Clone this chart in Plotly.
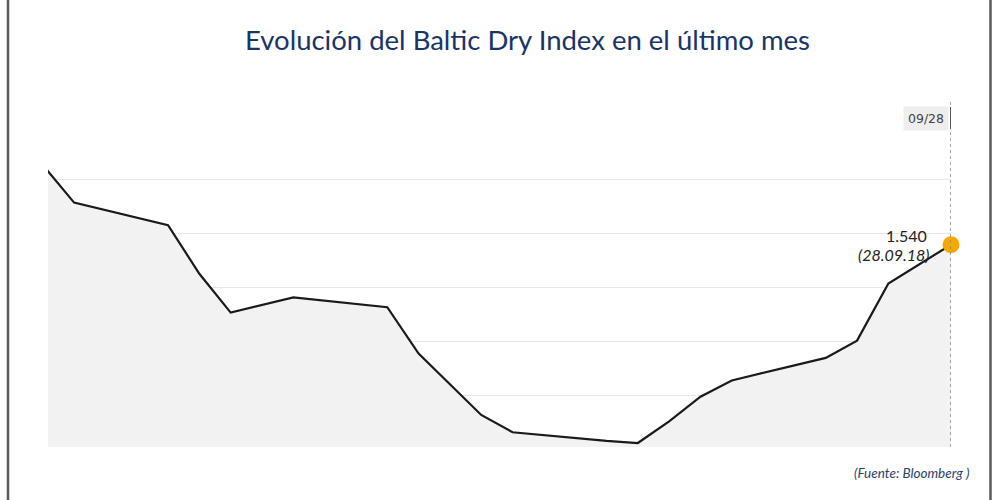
import plotly.graph_objects as go

# Data
dates = ["2018-08-30", "2018-08-31", "2018-09-03", "2018-09-04", "2018-09-05",
         "2018-09-07", "2018-09-10", "2018-09-11", "2018-09-13", "2018-09-14",
         "2018-09-17", "2018-09-18", "2018-09-19", "2018-09-20", "2018-09-21",
         "2018-09-24", "2018-09-25", "2018-09-26", "2018-09-28"]
bdi = [1614, 1579, 1558, 1513, 1477,
       1491, 1482, 1439, 1382, 1366,
       1358, 1356, 1376, 1399, 1414,
       1435, 1451, 1504, 1540]
grid_vals = [1400, 1450, 1500, 1550, 1600]
title_text = "Evolución del Baltic Dry Index en el último mes"
source_text = "(Fuente: Bloomberg )"
crosshair_label = "09/28"
last_date_label = "(28.09.18)"

last_val_text = f"{bdi[-1]:,}".replace(",", ".")

fig = go.Figure()
fig.add_trace(go.Scatter(
    x=dates, y=bdi, mode="lines",
    line=dict(color="#1a1a1a", width=2.2),
    fill="tozeroy", fillcolor="#f2f2f2",
    hoverinfo="skip", showlegend=False,
))
fig.add_trace(go.Scatter(
    x=[dates[-1]], y=[bdi[-1]], mode="markers",
    marker=dict(color="#f5a800", size=17, line=dict(width=0)),
    cliponaxis=False, hoverinfo="skip", showlegend=False,
))

L, R, T, B = 48, 49, 100, 53
W, H = 1000, 500
pw = W - L - R
ph = H - T - B


def px_x(px):
    return (px - L) / pw


def px_y(py):
    return (H - B - py) / ph


shapes = [
    # outer frame (left/right)
    dict(type="line", xref="paper", yref="paper", x0=px_x(8), x1=px_x(8),
         y0=px_y(0), y1=px_y(500), line=dict(color="#5a5a5a", width=2.5)),
    dict(type="line", xref="paper", yref="paper", x0=px_x(990.5), x1=px_x(990.5),
         y0=px_y(0), y1=px_y(500), line=dict(color="#5a5a5a", width=2.5)),
    # crosshair dotted line
    dict(type="line", xref="x", yref="paper", x0=dates[-1], x1=dates[-1],
         y0=0, y1=px_y(100), line=dict(color="#888888", width=1.5, dash="dot")),
    dict(type="line", xref="x", yref="paper", x0=dates[-1], x1=dates[-1],
         y0=px_y(129), y1=px_y(107), line=dict(color="#555555", width=2)),
]

annotations = [
    dict(text=title_text, xref="paper", yref="paper", x=px_x(527), y=px_y(39),
         xanchor="center", yanchor="middle", showarrow=False,
         font=dict(family="Lato", size=27.5, color="#1a3468")),
    dict(text=crosshair_label, xref="paper", yref="paper", x=px_x(949), y=px_y(118),
         xanchor="right", yanchor="middle", showarrow=False,
         bgcolor="#eeeeee", borderpad=4,
         font=dict(family="DejaVu Sans", size=12.5, color="#444444")),
    dict(text=last_val_text, xref="x", yref="y", x=dates[-1], y=bdi[-1],
         xanchor="right", yanchor="middle", xshift=-22, yshift=9, showarrow=False,
         font=dict(family="Lato", size=16, color="#222222")),
    dict(text="<i>" + last_date_label + "</i>", xref="x", yref="y", x=dates[-1], y=bdi[-1],
         xanchor="right", yanchor="middle", xshift=-20, yshift=-10, showarrow=False,
         font=dict(family="Lato", size=16, color="#222222")),
    dict(text="<i>" + source_text + "</i>", xref="paper", yref="paper", x=px_x(971), y=px_y(473),
         xanchor="right", yanchor="middle", showarrow=False,
         font=dict(family="Lato", size=13.5, color="#2a3f6e")),
]

fig.update_layout(
    width=W, height=H,
    margin=dict(l=L, r=R, t=T, b=B, pad=0),
    paper_bgcolor="white", plot_bgcolor="white",
    shapes=shapes, annotations=annotations,
    xaxis=dict(type="date", range=["2018-08-30 04:00", "2018-09-28 00:00"],
               showgrid=False, showticklabels=False, zeroline=False, showline=False,
               ticks="", fixedrange=True),
    yaxis=dict(range=[1352.3, 1674.2], tickvals=grid_vals, showticklabels=False,
               gridcolor="#e8e8e8", gridwidth=1, zeroline=False, showline=False,
               ticks="", fixedrange=True),
    hovermode=False,
)

fig.write_html("out.html", config={"displayModeBar": False, "staticPlot": True})

# remove the browser's default page margin so the figure sits at (0, 0)
with open("out.html", "r", encoding="utf-8") as f:
    html = f.read()
html = html.replace("<body>", '<body style="margin:0;padding:0;overflow:hidden">', 1)
with open("out.html", "w", encoding="utf-8") as f:
    f.write(html)
